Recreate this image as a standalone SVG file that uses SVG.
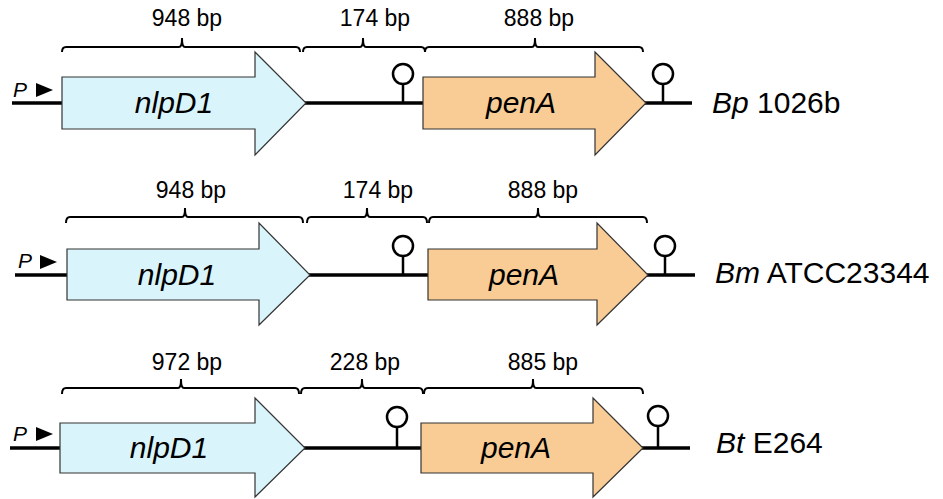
<svg xmlns="http://www.w3.org/2000/svg" width="943" height="499" viewBox="0 0 943 499">
<style>
text{font-family:"Liberation Sans",Arial,sans-serif;fill:#000}
.bp{font-size:23px;text-anchor:middle}
.gl{font-size:30px;font-style:italic;text-anchor:middle}
.st{font-size:30px}
.p{font-size:21px;font-style:italic}
.dna{stroke:#000;stroke-width:3.5;fill:none}
.br{stroke:#000;stroke-width:2;fill:none}
.term{stroke:#000;stroke-width:2.5;fill:#fff}
.nlp{fill:#d9f5fb;stroke:#333;stroke-width:1.2}
.pen{fill:#f9cc96;stroke:#333;stroke-width:1.2}
</style>

<!-- Row 1 -->
<g id="row1">
  <line class="dna" x1="12" y1="103" x2="692" y2="103"/>
  <g id="r1-promoter">
    <text class="p" x="13" y="97">P</text>
    <polygon points="36,83 53,90 36,97" fill="#000"/>
  </g>
  <g id="r1-brackets">
    <path class="br" d="M62,52 Q62,47 66,47 H179 Q182,47 182,38 Q182,47 185,47 H296 Q300,47 300,52"/>
    <path class="br" d="M303,52 Q303,47 307,47 H360 Q363,47 363,38 Q363,47 366,47 H421 Q425,47 425,52"/>
    <path class="br" d="M425,52 Q425,47 429,47 H532 Q535,47 535,38 Q535,47 538,47 H639 Q643,47 643,52"/>
    <text class="bp" x="187" y="26">948 bp</text>
    <text class="bp" x="375" y="26">174 bp</text>
    <text class="bp" x="539" y="26">888 bp</text>
  </g>
  <g id="r1-nlpD1">
    <polygon class="nlp" points="62,77 255,77 255,52 306,103 255,155 255,129 62,129"/>
    <text class="gl" x="174" y="113">nlpD1</text>
  </g>
  <g id="r1-penA">
    <polygon class="pen" points="423,77 595,77 595,52 646,103 595,155 595,129 423,129"/>
    <text class="gl" x="521" y="113">penA</text>
  </g>
  <g id="r1-term1">
    <line class="term" x1="403" y1="103" x2="403" y2="84"/>
    <circle class="term" cx="403" cy="74" r="10"/>
  </g>
  <g id="r1-term2">
    <line class="term" x1="663" y1="103" x2="663" y2="84"/>
    <circle class="term" cx="663" cy="74" r="10"/>
  </g>
  <text class="st" x="712" y="113"><tspan font-style="italic">Bp</tspan> 1026b</text>
</g>

<!-- Row 2 -->
<g id="row2">
  <line class="dna" x1="15" y1="275" x2="695" y2="275"/>
  <g id="r2-promoter">
    <text class="p" x="18" y="268">P</text>
    <polygon points="40,255 57,262 40,269" fill="#000"/>
  </g>
  <g id="r2-brackets">
    <path class="br" d="M66,223 Q66,217 70,217 H182 Q185,217 185,208 Q185,217 188,217 H299 Q303,217 303,223"/>
    <path class="br" d="M307,223 Q307,217 311,217 H364 Q367,217 367,208 Q367,217 370,217 H423 Q427,217 427,223"/>
    <path class="br" d="M429,223 Q429,217 433,217 H535 Q538,217 538,208 Q538,217 541,217 H643 Q647,217 647,223"/>
    <text class="bp" x="191" y="198">948 bp</text>
    <text class="bp" x="378" y="198">174 bp</text>
    <text class="bp" x="543" y="198">888 bp</text>
  </g>
  <g id="r2-nlpD1">
    <polygon class="nlp" points="67,249 259,249 259,223 310,275 259,325 259,300 67,300"/>
    <text class="gl" x="177" y="285">nlpD1</text>
  </g>
  <g id="r2-penA">
    <polygon class="pen" points="428,249 597,249 597,223 648,275 597,325 597,300 428,300"/>
    <text class="gl" x="524" y="285">penA</text>
  </g>
  <g id="r2-term1">
    <line class="term" x1="403" y1="275" x2="403" y2="256"/>
    <circle class="term" cx="403" cy="246" r="10"/>
  </g>
  <g id="r2-term2">
    <line class="term" x1="665" y1="275" x2="665" y2="256"/>
    <circle class="term" cx="665" cy="246" r="10"/>
  </g>
  <text class="st" x="715" y="283"><tspan font-style="italic">Bm</tspan> ATCC23344</text>
</g>

<!-- Row 3 -->
<g id="row3">
  <line class="dna" x1="10" y1="448" x2="690" y2="448"/>
  <g id="r3-promoter">
    <text class="p" x="13" y="441">P</text>
    <polygon points="36,427 53,434 36,441" fill="#000"/>
  </g>
  <g id="r3-brackets">
    <path class="br" d="M62,394 Q62,388 66,388 H178 Q181,388 181,379 Q181,388 184,388 H295 Q299,388 299,394"/>
    <path class="br" d="M301,394 Q301,388 305,388 H359 Q362,388 362,379 Q362,388 365,388 H419 Q423,388 423,394"/>
    <path class="br" d="M424,394 Q424,388 428,388 H530 Q533,388 533,379 Q533,388 536,388 H639 Q643,388 643,394"/>
    <text class="bp" x="187" y="370">972 bp</text>
    <text class="bp" x="365" y="370">228 bp</text>
    <text class="bp" x="543" y="370">885 bp</text>
  </g>
  <g id="r3-nlpD1">
    <polygon class="nlp" points="60,423 255,423 255,398 305,448 255,497 255,473 60,473"/>
    <text class="gl" x="169" y="458">nlpD1</text>
  </g>
  <g id="r3-penA">
    <polygon class="pen" points="421,423 593,423 593,398 643,448 593,497 593,473 421,473"/>
    <text class="gl" x="516" y="458">penA</text>
  </g>
  <g id="r3-term1">
    <line class="term" x1="397" y1="448" x2="397" y2="427"/>
    <circle class="term" cx="397" cy="417" r="10"/>
  </g>
  <g id="r3-term2">
    <line class="term" x1="658" y1="448" x2="658" y2="426"/>
    <circle class="term" cx="658" cy="416" r="10"/>
  </g>
  <text class="st" x="716" y="453"><tspan font-style="italic">Bt</tspan> E264</text>
</g>
</svg>
